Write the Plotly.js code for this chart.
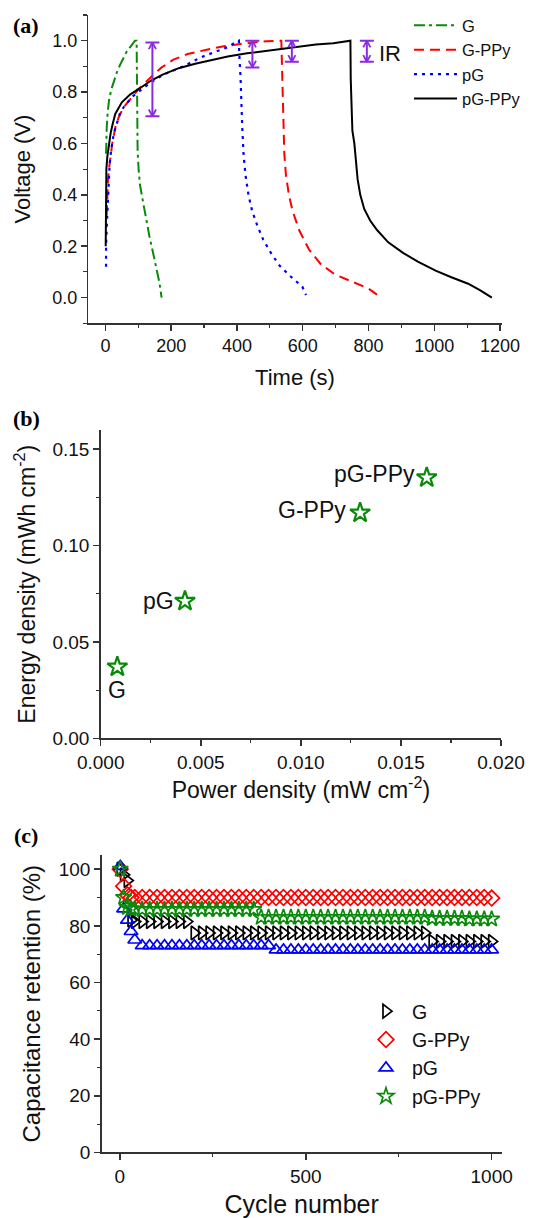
<!DOCTYPE html>
<html>
<head>
<meta charset="utf-8">
<script src="https://cdn.plot.ly/plotly-3.0.1.min.js"></script>
<style>html,body{margin:0;padding:0;background:#fff}#chart{width:536px;height:1218px}</style>
</head>
<body>
<div id="chart"></div>
<script>
// ---------- Panel (a): galvanostatic charge/discharge ----------
const gT   = [2, 2, 4, 7, 11, 18, 26, 35, 45, 55, 65, 80, 90, 95, 95.5, 96.5, 98, 101, 105, 112, 119, 126, 134, 144, 154, 164, 171];
const gV   = [0.56, 0.6, 0.66, 0.72, 0.768, 0.81, 0.844, 0.877, 0.907, 0.935, 0.958, 0.983, 1.0, 1.0, 0.8, 0.65, 0.57, 0.5, 0.44, 0.39, 0.338, 0.288, 0.238, 0.18, 0.124, 0.06, 0.0];

const gpT  = [4, 5, 6, 8, 11, 15, 21, 31, 40, 55, 75, 100, 136, 170, 207, 250, 308, 360, 409, 450, 490, 535, 536, 537, 540, 544, 549, 558, 569, 590, 619, 655, 698, 760, 800, 835];
const gpV  = [0.32, 0.38, 0.42, 0.46, 0.5, 0.55, 0.6, 0.667, 0.7, 0.74, 0.77, 0.81, 0.855, 0.895, 0.926, 0.948, 0.965, 0.978, 0.987, 0.994, 0.998, 1.0, 0.95, 0.86, 0.667, 0.56, 0.477, 0.4, 0.338, 0.26, 0.187, 0.13, 0.09, 0.055, 0.035, 0.003];

const pgT  = [2, 2, 5, 9, 13, 18, 26, 45, 60, 85, 105, 136, 180, 237, 290, 339, 372, 400, 406, 407, 411, 416, 420, 426, 435, 446, 462, 480, 505, 530, 565, 599, 610];
const pgV  = [0.12, 0.2, 0.3, 0.4, 0.52, 0.58, 0.64, 0.72, 0.75, 0.785, 0.805, 0.836, 0.87, 0.9, 0.935, 0.958, 0.975, 0.997, 1.0, 0.95, 0.856, 0.667, 0.56, 0.477, 0.4, 0.338, 0.28, 0.225, 0.17, 0.124, 0.08, 0.042, 0.01];

const pgpT = [1, 1, 3, 6, 11, 16, 22, 30, 50, 75, 105, 139, 174, 223, 273, 322, 372, 431, 490, 541, 590, 640, 693, 740, 745, 746, 748, 751, 757, 762, 767, 775, 787, 805, 826, 860, 905, 950, 1004, 1050, 1103, 1140, 1175];
const pgpV = [0.2, 0.44, 0.5, 0.55, 0.6, 0.64, 0.675, 0.715, 0.76, 0.79, 0.815, 0.845, 0.868, 0.893, 0.91, 0.925, 0.938, 0.951, 0.961, 0.97, 0.978, 0.985, 0.99, 0.998, 1.0, 0.85, 0.72, 0.65, 0.6, 0.53, 0.46, 0.4, 0.345, 0.3, 0.263, 0.215, 0.174, 0.14, 0.105, 0.08, 0.054, 0.028, 0.0];

// IR drop markers
const irT   = [143, 447, 567, 795];
const irTop = [0.993, 1.0, 1.0, 1.0];
const irBot = [0.706, 0.896, 0.918, 0.918];
const irLabel = {t: 825, v: 0.952, text: 'IR'};

// ---------- Panel (b): Ragone ----------
const rgNames  = ['G', 'pG', 'G-PPy', 'pG-PPy'];
const rgPower  = [0.00083, 0.00421, 0.01296, 0.01629];
const rgEnergy = [0.0371, 0.0712, 0.117, 0.1353];

// ---------- Panel (c): cycling stability ----------
const cycles = [1, 10, 20, 30, 40, 60, 80, 100, 120, 140, 160, 180, 200, 220, 240, 260, 280, 300, 320, 340, 360, 380, 400, 420, 440, 460, 480, 500, 520, 540, 560, 580, 600, 620, 640, 660, 680, 700, 720, 740, 760, 780, 800, 820, 840, 860, 880, 900, 920, 940, 960, 980, 1000];
const retG     = [100, 98, 96, 82, 81.5, 81.5, 81.5, 81.5, 81.5, 81.5, 81.5, 81.5, 77.5, 77.5, 77.5, 77.5, 77.5, 77.5, 77.5, 77.5, 77.5, 77.5, 77.5, 77.5, 77.5, 77.5, 77.5, 77.5, 77.5, 77.5, 77.5, 77.5, 77.5, 77.5, 77.5, 77.5, 77.5, 77.5, 77.5, 77.5, 77.5, 77.5, 77.5, 77.5, 74.5, 74.5, 74.5, 74.5, 74.5, 74.5, 74.5, 74.5, 74.5];
const retGPPy  = [100, 94, 91, 90, 90, 90, 90, 90, 90, 90, 90, 90, 90, 90, 90, 90, 90, 90, 90, 90, 90, 90, 90, 90, 90, 90, 90, 90, 90, 90, 90, 90, 90, 90, 90, 90, 90, 90, 90, 90, 90, 90, 90, 90, 90, 90, 90, 90, 90, 90, 90, 90, 89.8];
const retPG    = [101, 86, 82, 78, 75, 73, 73, 73, 73, 73, 73, 73, 73, 73, 73, 73, 73, 73, 73, 73, 73, 73, 73, 71.5, 71.5, 71.5, 71.5, 71.5, 71.5, 71.5, 71.5, 71.5, 71.5, 71.5, 71.5, 71.5, 71.5, 71.5, 71.5, 71.5, 71.5, 71.5, 71.5, 71.5, 71.5, 71.5, 71.5, 71.5, 71.5, 71.5, 71.5, 71.5, 71.5];
const retPGPPy = [100, 90, 86.5, 86, 86, 85.8, 85.8, 85.8, 85.8, 85.8, 85.8, 85.8, 85.8, 85.8, 85.8, 85.8, 85.8, 85.8, 85.8, 85.8, 85.8, 83, 83, 83, 83, 83, 83, 83, 83, 83, 83, 83, 83, 83, 83, 83, 83, 83, 83, 83, 83, 83, 83, 83, 82.6, 82.6, 82.6, 82.6, 82.6, 82.4, 82.4, 82.4, 82.4];

// ---------- styling ----------
const FONT = 'Liberation Sans, Arial, sans-serif';
const PURPLE = '#8a2be2';
const GREEN = '#0a8a0a';
const AX = '#333333';
const HEAD_DT = 11, HEAD_DV = 0.026;   // arrow-head size (style)

// chevron arrow heads built from the IR arrays
const headX = [], headY = [];
irT.forEach((t, i) => {
  headX.push(t - HEAD_DT, t, t + HEAD_DT, null, t - HEAD_DT, t, t + HEAD_DT, null);
  headY.push(irTop[i] - HEAD_DV, irTop[i], irTop[i] - HEAD_DV, null, irBot[i] + HEAD_DV, irBot[i], irBot[i] + HEAD_DV, null);
});

const traces = [
  {x: gT, y: gV, type: 'scatter', mode: 'lines', name: 'G', xaxis: 'x', yaxis: 'y', legend: 'legend',
   line: {color: GREEN, width: 2, dash: '11px,4px,3px,4px'}},
  {x: gpT, y: gpV, type: 'scatter', mode: 'lines', name: 'G-PPy', xaxis: 'x', yaxis: 'y', legend: 'legend',
   line: {color: '#ff0000', width: 2, dash: '10px,6px'}},
  {x: pgT, y: pgV, type: 'scatter', mode: 'lines', name: 'pG', xaxis: 'x', yaxis: 'y', legend: 'legend',
   line: {color: '#0000ff', width: 2.2, dash: '3px,5px'}},
  {x: pgpT, y: pgpV, type: 'scatter', mode: 'lines', name: 'pG-PPy', xaxis: 'x', yaxis: 'y', legend: 'legend',
   line: {color: '#000000', width: 2}},
  {x: irT, y: irT.map((_, i) => (irTop[i] + irBot[i]) / 2), type: 'scatter', mode: 'markers', showlegend: false,
   xaxis: 'x', yaxis: 'y', hoverinfo: 'skip', marker: {size: 1, color: 'rgba(0,0,0,0)'},
   error_y: {type: 'data', symmetric: true, array: irT.map((_, i) => (irTop[i] - irBot[i]) / 2),
             width: 7, thickness: 2, color: PURPLE}},
  {x: headX, y: headY, type: 'scatter', mode: 'lines', showlegend: false, xaxis: 'x', yaxis: 'y',
   hoverinfo: 'skip', connectgaps: false, line: {color: PURPLE, width: 1.8}},
  {x: rgPower, y: rgEnergy, type: 'scatter', mode: 'markers', showlegend: false, xaxis: 'x2', yaxis: 'y2',
   marker: {symbol: 'star-open', size: 15, color: GREEN, line: {width: 2.2, color: GREEN}}},
  {x: cycles, y: retG, type: 'scatter', mode: 'markers', name: 'G', xaxis: 'x3', yaxis: 'y3', legend: 'legend2',
   marker: {symbol: 'triangle-right-open', size: 12, color: '#000000', line: {width: 1.7}}},
  {x: cycles, y: retGPPy, type: 'scatter', mode: 'markers', name: 'G-PPy', xaxis: 'x3', yaxis: 'y3', legend: 'legend2',
   marker: {symbol: 'diamond-open', size: 12, color: '#ff0000', line: {width: 1.7}}},
  {x: cycles, y: retPG, type: 'scatter', mode: 'markers', name: 'pG', xaxis: 'x3', yaxis: 'y3', legend: 'legend2',
   marker: {symbol: 'triangle-up-open', size: 12, color: '#0000ff', line: {width: 1.7}}},
  {x: cycles, y: retPGPPy, type: 'scatter', mode: 'markers', name: 'pG-PPy', xaxis: 'x3', yaxis: 'y3', legend: 'legend2',
   marker: {symbol: 'star-open', size: 12, color: GREEN, line: {width: 1.7}}}
];

function axisBase(extra) {
  return Object.assign({
    showline: true, linecolor: AX, linewidth: 1.5, mirror: false,
    ticks: 'outside', ticklen: 6, tickwidth: 1.5, tickcolor: AX,
    showgrid: false, zeroline: false, fixedrange: true,
    tickfont: {family: FONT, size: 18, color: '#111'}
  }, extra);
}

const annotations = [];
annotations.push({x: irLabel.t, y: irLabel.v, xref: 'x', yref: 'y', text: irLabel.text, showarrow: false,
  xanchor: 'left', yanchor: 'middle', font: {family: FONT, size: 22, color: '#111'}});

// point labels in (b)
const rgShift = [{xa: 'center', dx: 0, dy: -23},
                 {xa: 'right', dx: -9, dy: 0},
                 {xa: 'right', dx: -12, dy: 3},
                 {xa: 'right', dx: -10, dy: 4}];
rgNames.forEach((n, i) => {
  annotations.push({x: rgPower[i], y: rgEnergy[i], xref: 'x2', yref: 'y2', text: n, showarrow: false,
    xanchor: rgShift[i].xa, yanchor: 'middle', xshift: rgShift[i].dx, yshift: rgShift[i].dy,
    font: {family: FONT, size: 23, color: '#111'}});
});

// panel letters
[['(a)', 25], ['(b)', 418], ['(c)', 835]].forEach(([txt, py]) => {
  annotations.push({x: 26 / 536, y: 1 - py / 1218, xref: 'paper', yref: 'paper', text: '<b>' + txt + '</b>',
    showarrow: false, xanchor: 'center', yanchor: 'middle',
    font: {family: 'Liberation Serif, Times New Roman, serif', size: 22, color: '#000'}});
});

const layout = {
  width: 536, height: 1218,
  margin: {l: 0, r: 0, t: 0, b: 0},
  paper_bgcolor: '#ffffff', plot_bgcolor: '#ffffff',
  font: {family: FONT, color: '#111'},
  xaxis: axisBase({domain: [0.1647, 0.9360], anchor: 'y', range: [-52, 1205], dtick: 200, tick0: 0,
    minor: {ticks: 'outside', ticklen: 3.5, dtick: 100, tickcolor: AX, tickwidth: 1.2},
    title: {text: 'Time (s)', font: {family: FONT, size: 22, color: '#111'}, standoff: 14}}),
  yaxis: axisBase({domain: [0.7346, 0.9877], anchor: 'x', range: [-0.1, 1.1], dtick: 0.2, tick0: 0, tickformat: '.1f',
    minor: {ticks: 'outside', ticklen: 3.5, dtick: 0.1, tickcolor: AX, tickwidth: 1.2},
    title: {text: 'Voltage (V)', font: {family: FONT, size: 22, color: '#111'}, standoff: 15}}),
  xaxis2: axisBase({domain: [0.1879, 0.9347], anchor: 'y2', range: [0, 0.020], dtick: 0.005, tick0: 0, tickformat: '.3f',
    tickfont: {family: FONT, size: 19, color: '#111'},
    minor: {ticks: 'outside', ticklen: 3.5, dtick: 0.0025, tickcolor: AX, tickwidth: 1.2},
    title: {text: 'Power density (mW cm<sup>-2</sup>)', font: {family: FONT, size: 23, color: '#111'}, standoff: 10}}),
  yaxis2: axisBase({domain: [0.3937, 0.6470], anchor: 'x2', range: [0, 0.16], dtick: 0.05, tick0: 0, tickformat: '.2f',
    tickfont: {family: FONT, size: 19, color: '#111'},
    minor: {ticks: 'outside', ticklen: 3.5, dtick: 0.025, tickcolor: AX, tickwidth: 1.2},
    title: {text: 'Energy density (mWh cm<sup>-2</sup>)', font: {family: FONT, size: 23, color: '#111'}, standoff: 10}}),
  xaxis3: axisBase({domain: [0.1897, 0.9360], anchor: 'y3', range: [-49, 1027], tickvals: [0, 500, 1000],
    tickfont: {family: FONT, size: 19, color: '#111'},
    minor: {ticks: 'outside', ticklen: 3.5, tickvals: [250, 750], tickcolor: AX, tickwidth: 1.2},
    title: {text: 'Cycle number', font: {family: FONT, size: 25, color: '#111'}, standoff: 14}}),
  yaxis3: axisBase({domain: [0.0538, 0.2980], anchor: 'x3', range: [0, 105], dtick: 20, tick0: 0,
    tickfont: {family: FONT, size: 19, color: '#111'},
    minor: {ticks: 'outside', ticklen: 3.5, dtick: 10, tickcolor: AX, tickwidth: 1.2},
    title: {text: 'Capacitance retention (%)', font: {family: FONT, size: 24, color: '#111'}, standoff: 11}}),
  legend: {x: 409 / 536, y: 1 - 8 / 1218, xanchor: 'left', yanchor: 'top', bgcolor: 'rgba(0,0,0,0)',
    font: {family: FONT, size: 16.5, color: '#111'}, itemwidth: 43, tracegroupgap: 0, traceorder: 'normal'},
  legend2: {x: 360 / 536, y: 1 - 992 / 1218, xanchor: 'left', yanchor: 'top', bgcolor: 'rgba(0,0,0,0)',
    font: {family: FONT, size: 19.5, color: '#111'}, itemwidth: 42, tracegroupgap: 0, traceorder: 'normal'},
  annotations: annotations,
  showlegend: true
};

Plotly.newPlot('chart', traces, layout, {staticPlot: true, displayModeBar: false});
</script>
</body>
</html>
